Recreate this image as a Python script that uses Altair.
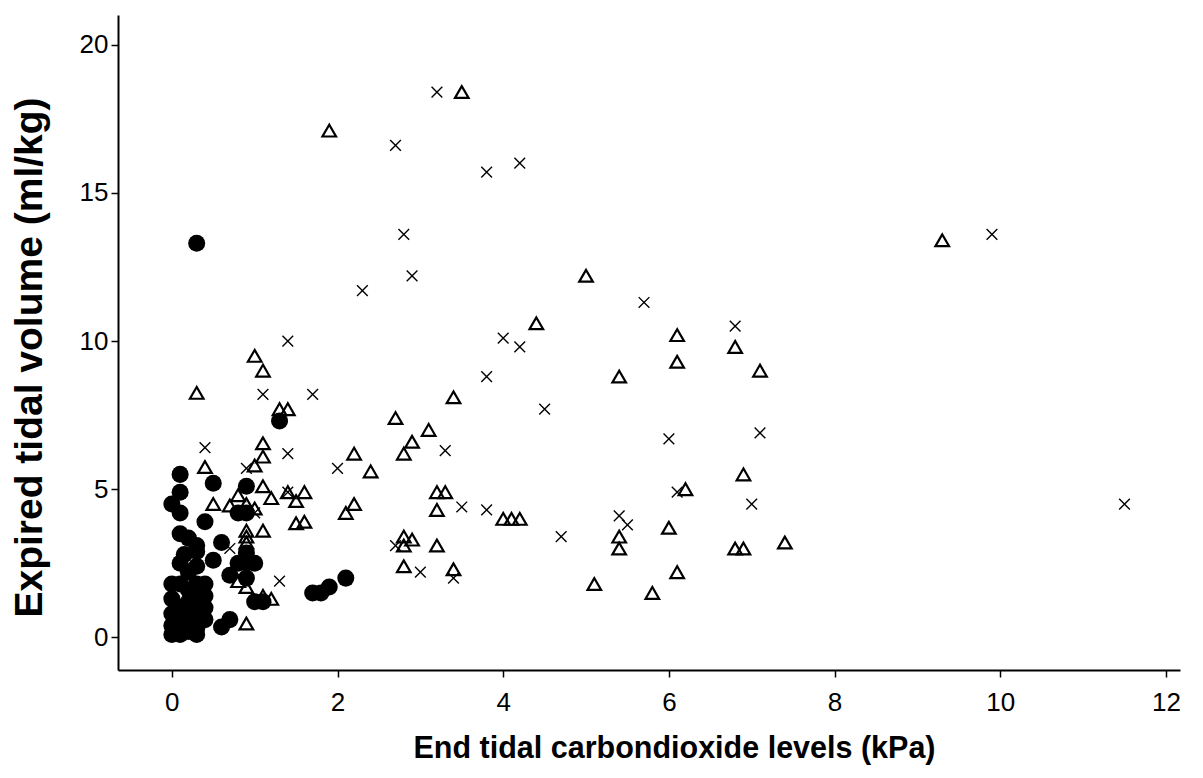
import altair as alt
import pandas as pd

# Filled circles
circle_x = [0.3, 1.3, 0.1, 0.1, 0.0, 0.1, 0.5, 0.9, 0.4, 0.8, 0.9, 0.1, 0.2, 0.3,
            0.6, 0.3, 0.1, 0.5, 0.7, 0.8, 0.9, 1.0, 0.9, 1.0, 1.1, 0.6, 0.7, 1.7,
            1.8, 1.9, 2.1, 0.9, 0.0, 0.1, 0.3, 0.4, 0.2, 0.0, 0.1, 0.2, 0.3, 0.4,
            0.0, 0.1, 0.2, 0.3, 0.4, 0.0, 0.1, 0.2, 0.3, 0.0, 0.1, 0.2, 0.3, 0.2,
            0.3, 0.15, 0.4, 0.25]
circle_y = [13.3, 7.3, 5.5, 4.9, 4.5, 4.2, 5.2, 5.1, 3.9, 4.2, 4.2, 3.5, 3.35, 3.1,
            3.2, 2.9, 2.5, 2.6, 2.1, 2.5, 2.6, 2.5, 2.0, 1.2, 1.2, 0.35, 0.6, 1.5,
            1.5, 1.7, 2.0, 2.85, 1.8, 1.8, 1.8, 1.8, 2.2, 1.3, 1.0, 1.2, 1.3, 1.0,
            0.8, 0.6, 0.7, 0.8, 0.6, 0.4, 0.3, 0.4, 0.3, 0.1, 0.1, 0.2, 0.1, 1.6,
            2.4, 2.8, 1.4, 0.9]

# Open triangles
tri_x = [3.5, 1.9, 9.3, 5.0, 4.4, 6.1, 6.1, 6.8, 7.1, 1.0, 1.1, 0.3, 1.3, 1.4,
         5.4, 3.4, 2.7, 3.1, 2.9, 2.8, 2.2, 1.1, 1.1, 0.4, 1.0, 2.4, 1.1, 1.2,
         1.4, 1.6, 1.5, 1.5, 1.6, 2.2, 2.1, 0.5, 0.8, 0.7, 0.9, 1.0, 0.9, 0.9,
         0.9, 1.1, 0.9, 0.8, 0.9, 1.1, 1.2, 0.9, 3.2, 3.3, 3.2, 4.0, 4.1, 4.2,
         2.8, 2.9, 2.8, 3.2, 2.8, 3.4, 5.4, 5.4, 5.1, 5.8, 6.0, 6.9, 6.2, 6.8,
         6.9, 7.4, 6.1]
tri_y = [18.4, 17.1, 13.4, 12.2, 10.6, 10.2, 9.3, 9.8, 9.0, 9.5, 9.0, 8.25, 7.7, 7.7,
         8.8, 8.1, 7.4, 7.0, 6.6, 6.2, 6.2, 6.55, 6.1, 5.75, 5.8, 5.6, 5.1, 4.7,
         4.9, 4.9, 4.6, 3.85, 3.9, 4.5, 4.2, 4.5, 4.8, 4.45, 4.5, 4.35, 3.6, 3.4,
         3.2, 3.6, 2.5, 1.9, 1.7, 1.4, 1.3, 0.47, 4.9, 4.9, 4.3, 4.0, 4.0, 4.0,
         3.4, 3.3, 3.1, 3.1, 2.4, 2.3, 3.4, 3.0, 1.8, 1.5, 3.7, 5.5, 5.0, 3.0,
         3.0, 3.2, 2.2]

# Crosses
cross_x = [3.2, 2.7, 3.8, 4.2, 2.8, 2.9, 2.3, 9.9, 5.7, 6.8, 1.4, 4.0, 4.2, 3.8,
           1.1, 1.7, 4.5, 7.1, 6.0, 0.4, 3.3, 1.4, 2.0, 0.9, 1.4, 6.1, 7.0, 11.5,
           3.5, 3.8, 1.0, 5.4, 5.5, 4.7, 2.7, 0.7, 3.0, 3.4, 1.3]
cross_y = [18.4, 16.6, 15.7, 16.0, 13.6, 12.2, 11.7, 13.6, 11.3, 10.5, 10.0, 10.1, 9.8, 8.8,
           8.2, 8.2, 7.7, 6.9, 6.7, 6.4, 6.3, 6.2, 5.7, 5.7, 4.9, 4.9, 4.5, 4.5,
           4.4, 4.3, 4.2, 4.1, 3.8, 3.4, 3.1, 3.0, 2.2, 2.0, 1.9]

x_ticks = [0, 2, 4, 6, 8, 10, 12]
y_ticks = [0, 5, 10, 15, 20]

df_c = pd.DataFrame({"x": circle_x, "y": circle_y})
df_t = pd.DataFrame({"x": tri_x, "y": tri_y})
df_x = pd.DataFrame({"x": cross_x, "y": cross_y})

FONT = "Liberation Sans"

xenc = alt.X("x:Q",
             scale=alt.Scale(domain=[-0.65, 12.17], nice=False, zero=False),
             axis=alt.Axis(values=x_ticks, title="End tidal carbondioxide levels (kPa)",
                           grid=False, labelFontSize=26, titleFontSize=30.5,
                           titleFontWeight="bold", labelPadding=12, titlePadding=18,
                           titleX=556, tickSize=7, labelFont=FONT, titleFont=FONT))
yenc = alt.Y("y:Q",
             scale=alt.Scale(domain=[-1.1, 21.0], nice=False, zero=False),
             axis=alt.Axis(values=y_ticks, title="Expired tidal volume (ml/kg)",
                           grid=False, labelFontSize=26, titleFontSize=39,
                           titleFontWeight="bold", labelPadding=3, titlePadding=30,
                           titleY=342, tickSize=7, labelFont=FONT, titleFont=FONT))

circles = alt.Chart(df_c).mark_point(shape="circle", filled=True, color="black",
                                     size=290, opacity=1).encode(x=xenc, y=yenc)
tris = alt.Chart(df_t).mark_point(shape="triangle-up", filled=False, color="black",
                                  size=185, strokeWidth=2.2, opacity=1).encode(x=xenc, y=yenc)
crosses = alt.Chart(df_x).mark_point(shape="M-1,-1L1,1M-1,1L1,-1", filled=False,
                                     color="black", size=115, strokeWidth=1.4,
                                     opacity=1).encode(x=xenc, y=yenc)

chart = alt.layer(circles, tris, crosses).properties(
    width=1062, height=655,
    padding={"left": 118, "top": 15, "right": 23, "bottom": 108},
    autosize=alt.AutoSizeParams(type="none"),
    background="white",
).configure_view(stroke=None).configure_axis(
    domainColor="black", domainWidth=2, tickColor="black", tickWidth=1.5,
    labelColor="black", titleColor="black",
)

chart.save("out.html", embed_options={"renderer": "svg", "actions": False})
